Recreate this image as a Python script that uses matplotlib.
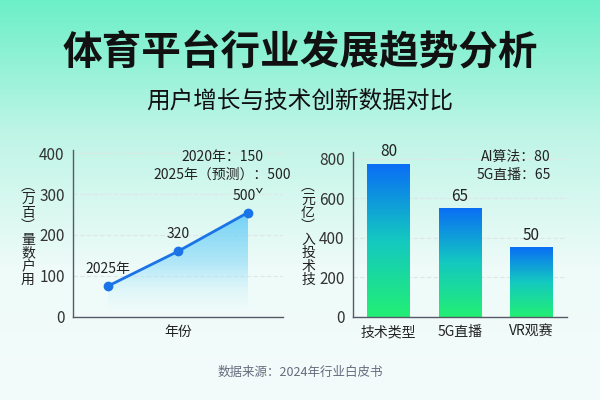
import numpy as np
import matplotlib.pyplot as plt
from matplotlib.colors import LinearSegmentedColormap
from matplotlib.patches import Polygon

plt.rcParams['font.family'] = ['Noto Sans CJK SC', 'DejaVu Sans']

# Data
years_idx = [0, 1, 2]
users = [75, 160, 255]
point_labels = ['2025年', '320', '500ˇ']

tech_types = ['技术类型', '5G直播', 'VR观赛']
invest = [775, 550, 350]
bar_labels = ['80', '65', '50']

fig = plt.figure(figsize=(6, 4), dpi=100)

# background gradient
bg = fig.add_axes([0, 0, 1, 1], zorder=-10)
bg_cmap = LinearSegmentedColormap.from_list('bg', ['#6cefc8', '#bff5e6', '#eefbf8', '#f4fcfb'])
bg.imshow(np.linspace(0, 1, 256).reshape(-1, 1), aspect='auto', cmap=bg_cmap,
          extent=[0, 1, 0, 1], origin='upper')
bg.axis('off')

fig.text(0.5, 1 - 52 / 400, '体育平台行业发展趋势分析', ha='center', va='center',
         fontsize=28.5, fontweight='heavy', color='#111111')
fig.text(0.5, 1 - 101 / 400, '用户增长与技术创新数据对比', ha='center', va='center',
         fontsize=17, fontweight='medium', color='#111111')
fig.text(0.5, 1 - 372 / 400, '数据来源：2024年行业白皮书', ha='center', va='center',
         fontsize=9, color='#666b7d')


def style_axes(ax):
    ax.set_facecolor('none')
    for s in ['top', 'right']:
        ax.spines[s].set_visible(False)
    for s in ['left', 'bottom']:
        ax.spines[s].set_color('#555a66')
        ax.spines[s].set_linewidth(1.0)
    ax.tick_params(length=0, labelsize=11, colors='#333333', pad=6)
    ax.yaxis.grid(True, color='#dfe6e6', linewidth=0.8, linestyle=(0, (4, 2)))
    ax.set_axisbelow(True)


# Left: user growth line
ax1 = fig.add_axes([73 / 600, 83.3 / 400, 210 / 600, 166.7 / 400])
style_axes(ax1)
ax1.set_xticks([])
ax1.set_xlabel('年份', fontsize=10, color='#222222', labelpad=6)

fill_cmap = LinearSegmentedColormap.from_list(
    'fill', [(0.92, 0.98, 1.0, 0.0), (0.55, 0.86, 0.97, 0.6), (0.40, 0.80, 0.97, 0.9)])
grad = ax1.imshow(np.linspace(0, 1, 256).reshape(-1, 1), aspect='auto', cmap=fill_cmap,
                  extent=[years_idx[0], years_idx[-1], 0, max(users)], origin='lower', zorder=1)
poly = Polygon(list(zip(years_idx, users)) + [(years_idx[-1], 0), (years_idx[0], 0)],
               closed=True, transform=ax1.transData, facecolor='none', edgecolor='none')
ax1.add_patch(poly)
grad.set_clip_path(poly)
ax1.set_xlim(-0.5, 2.5)
ax1.set_ylim(0, 408)
ax1.set_yticks([0, 100, 200, 300, 400])

ax1.plot(years_idx, users, color='#1a74e8', linewidth=2, marker='o', markersize=6, zorder=3)
for x, y, t in zip(years_idx, users, point_labels):
    ax1.annotate(t, (x, y), xytext=(0, 17), textcoords='offset pixels', ha='center', va='center',
                 fontsize=10, color='#222222')
fig.text(222 / 600, 1 - 166 / 400, '2020年：150\n2025年（预测）：500',
         ha='center', va='center', fontsize=10, color='#222222', linespacing=1.35)
fig.text(28 / 600, 1 - 233 / 400, '\n'.join('︵万百︶量数户用'), ha='center', va='center',
         fontsize=10, color='#222222', linespacing=0.95)

# Right: tech investment bars
ax2 = fig.add_axes([353 / 600, 83.3 / 400, 214 / 600, 164.7 / 400])
style_axes(ax2)
x = np.arange(len(tech_types))
ax2.set_xticks(x)
ax2.set_xticklabels(tech_types, fontsize=10, color='#222222')

bar_cmap = LinearSegmentedColormap.from_list('bar', ['#22ef74', '#14c9c0', '#0a6ef5'])
width = 0.6
bars = ax2.bar(x, invest, width, color='none', edgecolor='none')
for rect, lab in zip(bars, bar_labels):
    bx, bw, bh = rect.get_x(), rect.get_width(), rect.get_height()
    ax2.imshow(np.linspace(0, 1, 256).reshape(-1, 1), aspect='auto', cmap=bar_cmap,
               extent=[bx, bx + bw, 0, bh], origin='lower', zorder=2)
    ax2.annotate(lab, (bx + bw / 2, bh), xytext=(0, 12), textcoords='offset pixels',
                 ha='center', va='center', fontsize=11, color='#222222')
ax2.set_xlim(-0.5, 2.5)
ax2.set_ylim(0, 835)
ax2.set_yticks([0, 200, 400, 600, 800])

fig.text(551 / 600, 1 - 166 / 400, 'AI算法：80\n5G直播：65', ha='right', va='center',
         fontsize=10, color='#222222', linespacing=1.35)
fig.text(308 / 600, 1 - 233 / 400, '\n'.join('︵元亿︶入投术技'), ha='center', va='center',
         fontsize=10, color='#222222', linespacing=0.95)

fig.savefig('out.png', dpi=100)
